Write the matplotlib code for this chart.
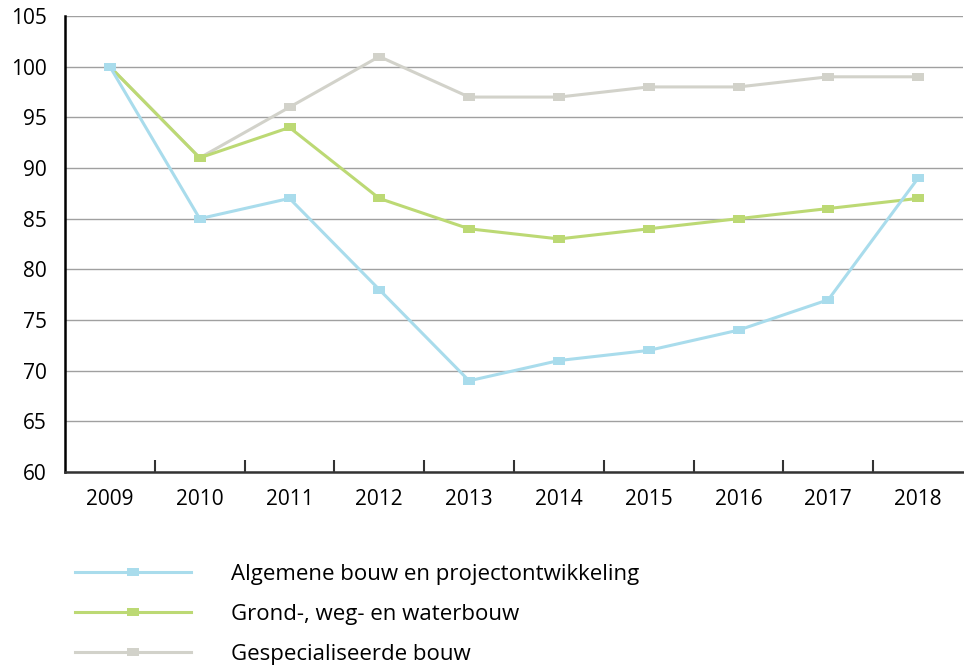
import numpy as np
import matplotlib
matplotlib.use("Agg")
import matplotlib.pyplot as plt
from matplotlib.lines import Line2D

plt.rcParams["font.family"] = ["Open Sans", "DejaVu Sans"]

years = ["2009", "2010", "2011", "2012", "2013", "2014", "2015", "2016", "2017", "2018"]
algemene = [100, 85, 87, 78, 69, 71, 72, 74, 77, 89]
grond = [100, 91, 94, 87, 84, 83, 84, 85, 86, 87]
gespecialiseerd = [100, 91, 96, 101, 97, 97, 98, 98, 99, 99]

labels = ["Algemene bouw en projectontwikkeling", "Grond-, weg- en waterbouw", "Gespecialiseerde bouw"]
colors = ["#a9dcec", "#bcd974", "#d2d2ca"]

# flat rectangle marker like the original
rect = [(-1, -0.64), (1, -0.64), (1, 0.64), (-1, 0.64), (-1, -0.64)]

fig = plt.figure(figsize=(9.64, 6.67), dpi=100)
ax = fig.add_axes([65 / 964, 1 - 472 / 667, 898 / 964, 456 / 667])

x = np.arange(len(years))
series = [algemene, grond, gespecialiseerd]
for i in [2, 1, 0]:
    ax.plot(x, series[i], color=colors[i], lw=2.2, marker=rect, markersize=8,
            markeredgewidth=0, zorder=3 + (2 - i))

ax.set_xlim(-0.5, len(years) - 0.5)
ax.set_ylim(60, 105)
ax.set_yticks(range(60, 106, 5))
ax.yaxis.grid(True, color="#a0a0a0", lw=1)
ax.set_axisbelow(True)
ax.tick_params(axis="y", length=0, pad=13, labelsize=15)

ax.set_xticks(x)
ax.set_xticklabels(years)
ax.set_xticks(x[:-1] + 0.5, minor=True)
ax.tick_params(axis="x", which="major", length=0, pad=12, labelsize=15)
ax.tick_params(axis="x", which="minor", direction="in", length=9, width=1.5, color="#333333")

for s in ["top", "right"]:
    ax.spines[s].set_visible(False)
ax.spines["left"].set_color("black")
ax.spines["left"].set_linewidth(1.8)
ax.spines["bottom"].set_color("#333333")
ax.spines["bottom"].set_linewidth(1.8)

handles = [Line2D([], [], color=c, lw=2.2, marker=rect, markersize=8, markeredgewidth=0) for c in colors]
fig.legend(handles, labels, loc="upper left", bbox_to_anchor=(75 / 964, 1 - 564 / 667),
           frameon=False, fontsize=16, handlelength=5.2, handletextpad=1.8, labelspacing=0.85,
           borderpad=0, borderaxespad=0)

fig.savefig("out.png", dpi=100)
